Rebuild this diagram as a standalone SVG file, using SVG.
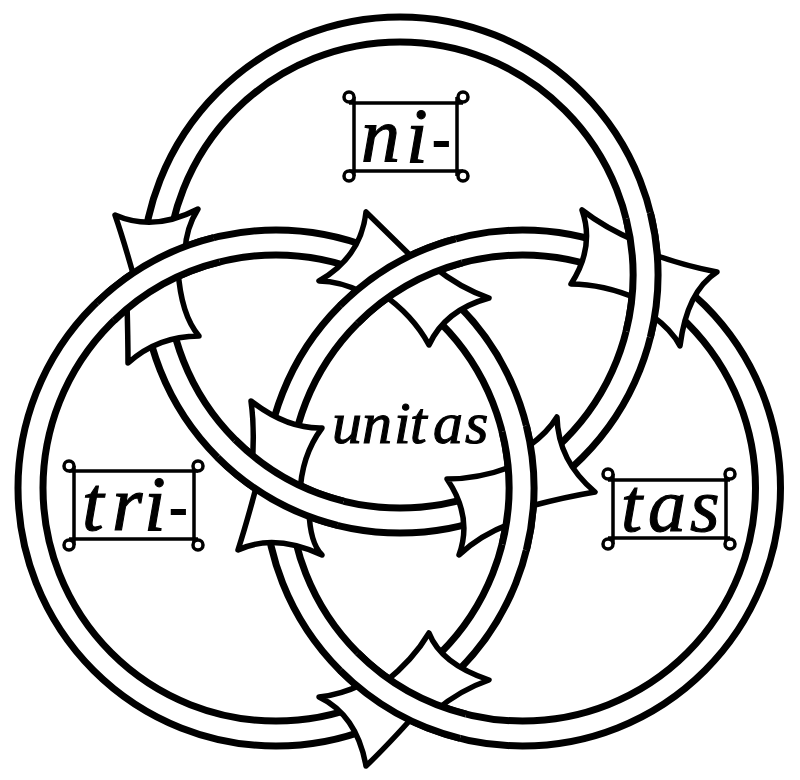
<svg xmlns="http://www.w3.org/2000/svg" width="800" height="780" viewBox="0 0 800 780">
<style>
.e{fill:none;stroke:#000;stroke-width:7}
.w{fill:none;stroke:#fff;stroke-width:25}
.f{fill:#fff;stroke:#000;stroke-width:5.5;stroke-linejoin:round;stroke-linecap:butt}
.box{fill:none;stroke:#000;stroke-width:3.5}
.dot{fill:#fff;stroke:#000;stroke-width:3.5}
.t{font-family:"Liberation Serif","DejaVu Serif",serif;font-style:italic;fill:#000;stroke:#000;stroke-width:1.1}
.h{stroke-width:2.2}
</style>
<rect width="800" height="780" fill="#fff"/>
<g id="connectors">
<g id="rings">
<circle class="e" cx="400" cy="275" r="258"/><circle class="e" cx="400" cy="275" r="233"/>
<circle class="e" cx="276" cy="488" r="258"/><circle class="e" cx="276" cy="488" r="233"/>
<circle class="e" cx="522.5" cy="488" r="258"/><circle class="e" cx="522.5" cy="488" r="233"/>
</g>
<g id="crossing-a">
<path class="f" d="M134 277Q123 238 115 215Q154 232 198 209Q186 228 185 251"/>
<path class="f" d="M127 303Q128 340 128 363Q158 336 199 336Q181 315 178 270"/>
<path class="w" d="M105.5 311.4A245.5 245.5 0 0 1 216.6 249.8"/>
<path class="e" d="M114.1 320.4A233 233 0 0 1 219.6 261.9"/>
<path class="e" d="M96.8 302.4A258 258 0 0 1 213.6 237.7"/>
</g>
<g id="crossing-b">
<path class="f" d="M415 260L366 212Q361 257 319 281Q340 281 364 293"/>
<path class="f" d="M434 267Q460 288 489 298Q445 310 429 345Q413 315 381 293"/>
<path class="w" d="M348.9 314.4A245.5 245.5 0 0 1 459 250.9"/>
<path class="e" d="M357.7 323.2A233 233 0 0 1 462.2 262.9"/>
<path class="e" d="M340.1 305.6A258 258 0 0 1 455.7 238.8"/>
</g>
<g id="crossing-c">
<path class="f" d="M638 242Q605 228 582 210Q595 247 571 284Q603 284 638 299"/>
<path class="f" d="M652 254Q685 266 717 272Q687 291 680 346Q672 330 651 315"/>
<path class="w" d="M638.2 215.6A245.5 245.5 0 0 1 638.2 334.4"/>
<path class="e" d="M626.1 218.6A233 233 0 0 1 626.1 331.4"/>
<path class="e" d="M650.3 212.6A258 258 0 0 1 650.3 337.4"/>
</g>
<g id="crossing-d">
<path class="f" d="M252 467Q255 430 251 401Q287 429 322 428Q301 456 300 495"/>
<path class="f" d="M257 484Q247 522 238 550Q274 533 322 555Q310 543 309 511"/>
<path class="w" d="M226.4 448.6A245.5 245.5 0 0 0 340.6 513.2"/>
<path class="e" d="M235.2 439.8A233 233 0 0 0 343.6 501.1"/>
<path class="e" d="M217.6 457.4A258 258 0 0 0 337.6 525.3"/>
</g>
<g id="crossing-e">
<path class="f" d="M513 466Q480 479 447 479Q473 517 459 555Q480 535 512 523"/>
<path class="f" d="M529 446Q548 432 557 417Q558 461 595 492Q565 497 531 506"/>
<path class="w" d="M514.2 428.6A245.5 245.5 0 0 1 514.2 547.4"/>
<path class="e" d="M502.1 431.6A233 233 0 0 1 502.1 544.4"/>
<path class="e" d="M526.3 425.6A258 258 0 0 1 526.3 550.4"/>
</g>
<g id="crossing-f">
<path class="f" d="M384 683Q413 660 429 633Q441 664 489 680Q460 690 435 711"/>
<path class="f" d="M363 684Q340 695 319 697Q357 715 366 766Q385 748 412 718"/>
<path class="w" d="M348.9 661.6A245.5 245.5 0 0 0 463.1 726.2"/>
<path class="e" d="M357.7 652.8A233 233 0 0 0 466.1 714.1"/>
<path class="e" d="M340.1 670.4A258 258 0 0 0 460.1 738.3"/>
</g>
</g>
<g id="node-ni">
<path class="box" d="M349 103H463M349 171H463M354 97V176M457 97V176"/>
<circle class="dot" cx="349" cy="97" r="5"/><circle class="dot" cx="463" cy="97" r="5"/><circle class="dot" cx="349" cy="176" r="5"/><circle class="dot" cx="463" cy="176" r="5"/>
<text class="t" y="162" font-size="78" x="361 406">ni</text>
<text class="t h" x="433" y="156" font-size="50">-</text>
</g>
<g id="node-tri">
<path class="box" d="M69 471H198M69 539H198M74 466V545M194 466V545"/>
<circle class="dot" cx="69" cy="466" r="5"/><circle class="dot" cx="198" cy="466" r="5"/><circle class="dot" cx="69" cy="545" r="5"/><circle class="dot" cx="198" cy="545" r="5"/>
<text class="t" y="530" font-size="78" x="82 112 144">tri</text>
<text class="t h" x="170" y="524" font-size="50">-</text>
</g>
<g id="node-tas">
<path class="box" d="M608 480H730M608 538H730M613 474V544M726 474V544"/>
<circle class="dot" cx="608" cy="474" r="5"/><circle class="dot" cx="730" cy="474" r="5"/><circle class="dot" cx="608" cy="544" r="5"/><circle class="dot" cx="730" cy="544" r="5"/>
<text class="t" y="531" font-size="76" x="621 648 690">tas</text>
</g>
<g id="node-unitas">
<text class="t" y="443" font-size="60" x="332 362 394 410 433 465">unitas</text>
</g>
</svg>
